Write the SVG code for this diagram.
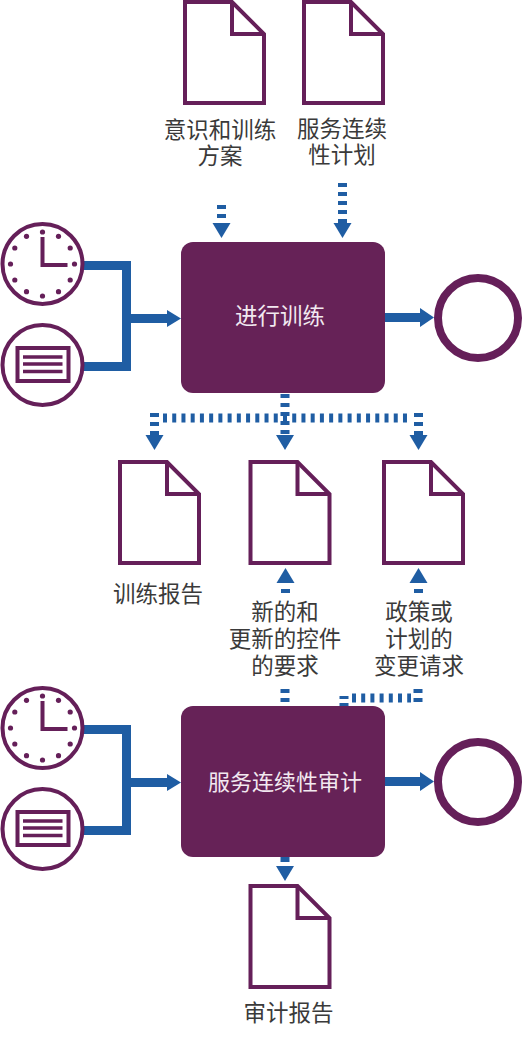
<svg xmlns="http://www.w3.org/2000/svg" width="522" height="1041" viewBox="0 0 522 1041">
<style>
text{font-family:"Noto Sans CJK SC","Noto Sans",sans-serif;font-size:22.500px;fill:#3a3a3a;text-anchor:middle}
.w{fill:#f2e9f0}
.doc{fill:#fff;stroke:#651f59;stroke-width:4;stroke-linejoin:miter}
.ln{fill:none;stroke:#651f59;stroke-width:4}
.ic{fill:#fff;stroke:#651f59;stroke-width:4}
.box{fill:#662257}
.solid{fill:none;stroke:#1f5da3;stroke-width:9}
.dv{fill:none;stroke:#1f5da3;stroke-width:9;stroke-dasharray:4 5}
.h{fill:#1f5da3}
</style>
<defs>
<g id="docshape">
<path class="doc" d="M2 2H49L81 34V103H2Z"/>
<path class="ln" d="M49 2V34H81"/>
</g>
<g id="clock">
<circle class="ic" r="40"/>
<path class="ln" d="M0-27V1H25"/>
<g fill="#651f59">
<circle cy="-32" r="2.600"/><circle cx="16" cy="-27.700" r="2.600"/><circle cx="27.700" cy="-16" r="2.600"/><circle cx="32" r="2.600"/><circle cx="27.700" cy="16" r="2.600"/><circle cx="16" cy="27.700" r="2.600"/><circle cy="32" r="2.600"/><circle cx="-16" cy="27.700" r="2.600"/><circle cx="-27.700" cy="16" r="2.600"/><circle cx="-32" r="2.600"/><circle cx="-27.700" cy="-16" r="2.600"/><circle cx="-16" cy="-27.700" r="2.600"/>
</g>
</g>
<g id="form">
<circle class="ic" r="40"/>
<rect x="-25" y="-17" width="51" height="33" fill="none" stroke="#651f59" stroke-width="4"/>
<path d="M-19.500-8H20M-19.500-1H20M-19.500 6.500H20" stroke="#651f59" stroke-width="3.500" fill="none"/>
</g>
<path id="hd" class="h" d="M-9 0H9L0 15Z"/>
<path id="hu" class="h" d="M-9 15H9L0 0Z"/>
</defs>

<g id="connectors">
<path class="solid" d="M83 265.500H126.500V366.500H83M126.500 318.500H170"/>
<path class="h" d="M167 310L181 318.500L167 327Z"/>
<path class="solid" d="M385 317.500H422"/>
<path class="h" d="M420 308L434 317.500L420 327Z"/>
<path class="solid" d="M83 729.500H126.500V830.500H83M126.500 782.500H170"/>
<path class="h" d="M167 774L181 782.500L167 791Z"/>
<path class="solid" d="M385 781.500H422"/>
<path class="h" d="M420 772L434 781.500L420 791Z"/>

<path class="dv" d="M221.500 205V224"/><use href="#hd" x="221.500" y="223"/>
<path class="dv" d="M342.500 183V224"/><use href="#hd" x="342.500" y="223"/>

<path class="dv" d="M163 418H409" style="stroke-dasharray:4 5.230"/>
<path class="dv" d="M154.500 413V436"/><use href="#hd" x="154.500" y="435"/>
<path class="dv" d="M285 394V436"/><use href="#hd" x="285" y="435"/>
<path class="dv" d="M418.500 413V436"/><use href="#hd" x="418.500" y="435"/>

<use href="#hu" x="285.500" y="568"/><path class="dv" d="M285.500 589V593"/>
<use href="#hu" x="418.500" y="568"/><path class="dv" d="M418.500 589V593"/>

<path class="dv" d="M285 689V702"/>
<path class="dv" d="M352 698H411" style="stroke-dasharray:4 5.200"/>
<path class="dv" d="M418 689V702"/>
<path class="dv" d="M344 696V706" style="stroke-dasharray:3 4"/>

<path class="dv" d="M285 857V866" style="stroke-dasharray:5 9"/><use href="#hd" x="285" y="866"/>
</g>

<g id="doc-a"><use href="#docshape" x="183" y="0"/></g>
<g id="doc-b"><use href="#docshape" x="302" y="0"/></g>
<g id="label-a"><text y="138"><tspan x="220">意识和训练</tspan><tspan x="220" dy="26">方案</tspan></text></g>
<g id="label-b"><text y="137"><tspan x="342">服务连续</tspan><tspan x="342" dy="26">性计划</tspan></text></g>

<g id="clock-1"><use href="#clock" x="42.500" y="264"/></g>
<g id="form-1"><use href="#form" x="42.500" y="365"/></g>
<g id="process-1"><rect class="box" x="181" y="242" width="204" height="151" rx="12"/><text class="w" x="280" y="324">进行训练</text></g>
<g id="end-1"><circle cx="478" cy="318" r="40" fill="#fff" stroke="#651f59" stroke-width="8"/></g>

<g id="doc-c"><use href="#docshape" x="118" y="460"/></g>
<g id="doc-d"><use href="#docshape" x="248.500" y="460"/></g>
<g id="doc-e"><use href="#docshape" x="382" y="460"/></g>
<g id="label-c"><text x="158" y="602">训练报告</text></g>
<g id="label-d"><text y="620"><tspan x="285">新的和</tspan><tspan x="285" dy="27">更新的控件</tspan><tspan x="285" dy="27">的要求</tspan></text></g>
<g id="label-e"><text y="620"><tspan x="419">政策或</tspan><tspan x="419" dy="27">计划的</tspan><tspan x="419" dy="27">变更请求</tspan></text></g>

<g id="clock-2"><use href="#clock" x="42.500" y="728"/></g>
<g id="form-2"><use href="#form" x="42.500" y="829"/></g>
<g id="process-2"><rect class="box" x="181" y="706" width="204" height="151" rx="12"/><text class="w" x="285" y="790" style="font-size:22px">服务连续性审计</text></g>
<g id="end-2"><circle cx="478" cy="782" r="40" fill="#fff" stroke="#651f59" stroke-width="8"/></g>

<g id="doc-f"><use href="#docshape" x="248.500" y="884"/></g>
<g id="label-f"><text x="288.500" y="1021">审计报告</text></g>
</svg>
